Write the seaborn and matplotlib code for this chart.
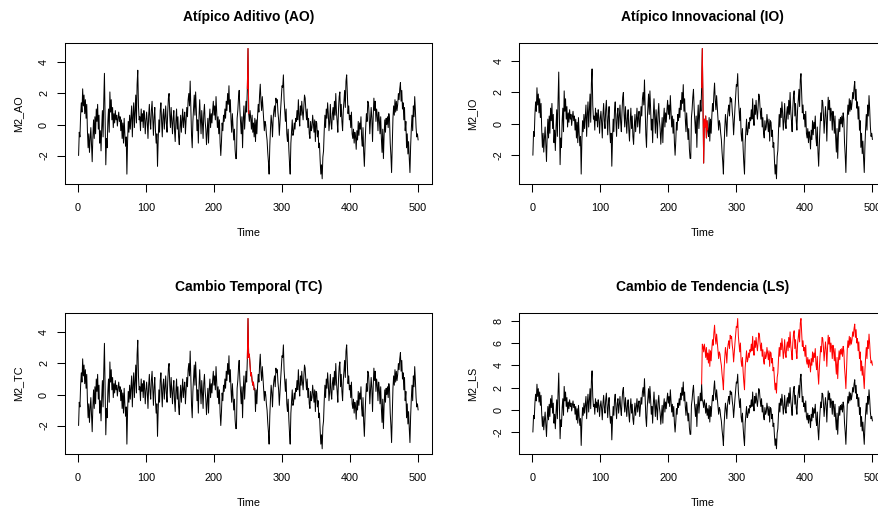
import numpy as np
import pandas as pd
import matplotlib
matplotlib.use("Agg")
import matplotlib.pyplot as plt
import seaborn as sns

# ---------------- data ----------------
# base series M2, t = 1..500
base = [
    -2.0, -0.5, -0.8, 0.6, 1.4, 0.8, 2.3, 1.2, 1.9, 0.7,
    1.6, 0.4, 1.3, -0.4, -1.5, -0.6, -1.8, -0.9, -0.2, -1.3,
    -2.4, -0.8, 0.3, -0.9, 0.5, -0.6, 1.0, 0.2, 1.3, -0.3,
    0.6, -1.2, -0.4, -1.7, -0.2, 0.9, -0.8, 1.5, 3.3, 0.4,
    -2.6, -0.9, -1.5, 0.2, 1.0, -0.5, 2.1, 0.8, 1.6, 0.3,
    1.1, -0.2, 0.7, 0.1, 0.9, 0.3, 0.6, -0.1, 0.4, 0.8,
    0.2, 0.5, -0.4, 0.3, -0.9, 0.1, -1.2, 0.4, -0.6, -1.4,
    -0.8, -3.2, -1.1, 0.2, -0.5, 0.6, -0.3, 0.4, 1.2, -0.8,
    0.6, 1.4, -0.2, 0.8, 1.9, 0.1, 2.6, 3.5, 1.2, 0.3,
    0.5, -0.4, 1.0, 0.2, 0.7, -0.2, 0.9, 0.4, -0.6, 0.3,
    0.8, 0.1, -0.9, 0.6, 1.3, 0.2, -0.3, 0.9, 1.5, 0.4,
    -0.7, 0.5, 1.1, -0.4, -1.2, -0.6, -2.7, -1.0, 0.3, -0.5,
    0.9, 1.4, 0.2, -0.8, 0.6, 1.0, -0.3, 0.5, 1.2, 0.1,
    -0.5, 0.8, 1.7, 2.0, 0.6, -0.2, 1.1, 0.3, -0.6, 0.4,
    0.9, -0.4, -1.1, 0.2, 1.0, -0.3, 0.5, -0.8, -1.3, -0.2,
    0.6, -0.5, 0.3, 1.0, -0.2, 0.4, 0.8, -0.6, 0.2, 1.1,
    0.5, 1.6, 2.0, 1.2, 2.8, 0.9, -0.7, -1.5, 0.2, 1.0,
    1.9, 0.6, 2.1, 1.0, -0.4, 0.3, -1.2, 0.5, 1.6, 0.4,
    -0.6, 0.9, 0.1, -0.9, 0.7, 1.3, 0.2, -0.3, -1.3, -0.5,
    0.4, -1.2, 0.3, 1.0, -0.2, 0.7, 0.1, 0.9, 1.5, 0.6,
    1.2, 0.3, 1.8, 0.8, -0.2, 0.5, -0.6, 0.3, -1.2, -2.0,
    -1.1, 0.1, -0.4, 0.6, 0.2, 1.0, 0.4, 1.5, 0.9, 2.0,
    1.3, 2.5, 0.8, 1.6, 0.3, -0.5, 0.7, -0.2, -1.0, -0.3,
    -1.6, -2.2, -2.2, 0.4, 0.9, 1.7, 2.2, 1.0, 0.2, -0.6,
    0.5, -1.5, 0.3, 1.2, -0.3, 0.6, 1.5, 0.8, 2.3, 0.9,
    0.7, 0.2, 0.9, 0.4, -0.3, 0.6, -0.5, 0.1, -0.8, 0.4,
    -1.1, 0.3, -0.6, 0.5, 1.3, 0.8, 1.9, 2.6, 1.5, 0.9,
    1.8, 1.1, 0.3, -0.4, 0.2, 0.0, -0.6, -1.0, -1.8, -2.4,
    -3.2, -1.4, -0.3, 0.6, 0.1, -0.8, 0.4, 0.9, 1.2, 0.5,
    1.7, 1.4, 1.6, 0.8, 0.3, -0.7, 0.2, 1.0, 1.8, 2.5,
    2.4, 3.2, 1.6, 0.9, 0.2, 1.0, -0.6, -1.1, -0.3, -1.6,
    -2.5, -3.2, -1.2, -0.4, 0.3, -0.7, -0.5, 0.1, -0.3, 0.4,
    0.2, 0.9, 0.3, 1.6, 0.5, -0.1, 1.2, 0.6, 1.5, 0.8,
    0.3, 1.1, 1.9, 1.7, 0.9, 0.3, 1.0, -0.2, 0.4, -0.6,
    -0.9, 0.2, -0.4, -0.2, 0.6, 0.1, -0.5, 0.3, -1.1, 0.2,
    0.1, -0.8, -0.4, -1.5, -1.2, -2.3, -3.2, -2.6, -3.5, -2.1,
    -1.7, -0.4, 0.6, -0.2, 1.0, 0.4, 1.4, 0.7, -0.4, 0.2,
    1.3, 0.1, -0.3, 0.7, 1.1, 0.3, 1.5, 0.6, 2.0, 0.8,
    0.2, -0.5, 1.0, 1.8, 2.1, 0.5, 1.3, 0.2, -0.4, 0.9,
    1.5, 2.2, 1.1, 2.8, 3.2, 1.9, 0.7, 1.2, 0.3, 0.6,
    -0.2, 0.8, -0.6, -0.9, -0.3, -1.2, -0.5, -0.8, -1.6, -0.4,
    -1.0, 0.2, -0.7, 0.1, -0.3, 0.5, -0.9, -1.4, -0.2, -1.8,
    -2.7, -1.3, -0.2, 0.7, 0.2, 1.5, 1.4, 0.6, -0.6, 0.3,
    1.1, 0.4, -1.1, 0.5, 1.7, 0.9, 1.5, 0.2, 1.0, 0.6,
    -0.4, 0.8, 0.3, -0.6, 0.5, -0.9, -1.8, -0.3, -2.2, -0.7,
    0.3, -0.5, 0.4, 0.0, 0.5, -0.2, 0.7, 0.3, -1.2, -2.0,
    -3.1, -1.3, 0.4, 1.2, 0.6, 1.6, 0.8, 1.5, 0.9, 1.3,
    2.0, 1.6, 2.3, 2.7, 1.5, 2.2, 1.0, 1.4, 0.3, 1.1,
    -0.4, 0.2, -1.5, -0.6, -1.9, -1.1, -2.2, -3.1, -1.4, -0.3,
    0.6, -0.4, 1.2, 0.5, 1.8, 0.9, -0.2, -0.8, -0.6, -1.0,
]

# outlier effects (series values at the affected times)
ao_t = [250]
ao_vals = [4.9]
io_t = [250, 251, 252, 253, 254, 255, 256, 257, 258]
io_vals = [4.8, 1.3, -2.5, 0.3, -0.2, 0.5, -0.9, 0.2, -0.4]
tc_t = [250, 251, 252, 253, 254, 255, 256, 257, 258, 259]
tc_vals = [4.9, 2.4, 2.6, 1.9, 1.2, 1.4, 0.9, 0.6, 0.8, 0.3]
ls_start = 250
ls_shift = 5.0

titles = ["Atípico Aditivo (AO)", "Atípico Innovacional (IO)",
          "Cambio Temporal (TC)", "Cambio de Tendencia (LS)"]
ylabels = ["M2_AO", "M2_IO", "M2_TC", "M2_LS"]
xticks = [0, 100, 200, 300, 400, 500]

# ---------------- build series ----------------
time = np.arange(1, len(base) + 1)
b = np.array(base, dtype=float)


def with_effect(ts, vals):
    s = b.copy()
    for t, v in zip(ts, vals):
        s[t - 1] = v
    return s


ao = with_effect(ao_t, ao_vals)
io = with_effect(io_t, io_vals)
tc = with_effect(tc_t, tc_vals)
ls = b.copy()
ls[ls_start - 1:] = ls[ls_start - 1:] + ls_shift

panels = [
    (ao, ao, ao_t[0] - 1, ao_t[-1] + 1),
    (io, io, io_t[0] - 1, io_t[-1]),
    (tc, tc, tc_t[0] - 1, tc_t[-1]),
    (b, ls, ls_start - 1, len(base)),
]

# ---------------- figure ----------------
sns.set_style("white")
plt.rcParams['font.family'] = ['Liberation Sans', 'DejaVu Sans']
plt.rcParams['text.color'] = 'black'
plt.rcParams['axes.labelcolor'] = 'black'
plt.rcParams['xtick.color'] = 'black'
plt.rcParams['ytick.color'] = 'black'

W, H = 879, 512
fig = plt.figure(figsize=(W / 100, H / 100), dpi=100)
AW, AH = 366.7, 140.7
lefts = [65, 519.3]
tops = [43.3, 313.3]

for i, (black_s, red_s, r0, r1) in enumerate(panels):
    left = lefts[i % 2]
    top = tops[i // 2]
    ax = fig.add_axes([left / W, 1 - (top + AH) / H, AW / W, AH / H])
    df_b = pd.DataFrame({"Time": time, "v": black_s})
    sns.lineplot(data=df_b, x="Time", y="v", ax=ax, color="black",
                 linewidth=0.72, estimator=None, sort=False)
    mask = (time >= r0) & (time <= r1)
    df_r = pd.DataFrame({"Time": time[mask], "v": red_s[mask]})
    sns.lineplot(data=df_r, x="Time", y="v", ax=ax, color="red",
                 linewidth=0.72, estimator=None, sort=False)

    lo = min(black_s.min(), red_s[mask].min())
    hi = max(black_s.max(), red_s[mask].max())
    pad = 0.04 * (hi - lo)
    ax.set_ylim(lo - pad, hi + pad)
    ax.set_xlim(1 - 0.04 * 499, 500 + 0.04 * 499)
    ax.set_xticks(xticks)
    yt = np.arange(-2, np.floor(hi) + 0.1, 2)
    ax.set_yticks(yt)
    ax.set_yticklabels([f"{int(v)}" for v in yt], rotation=90, va="center")
    ax.tick_params(axis="both", direction="out", length=6, width=0.75,
                   colors="black", labelcolor="black", labelsize=7.8,
                   bottom=True, left=True)
    ax.tick_params(axis="x", pad=7.5)
    ax.tick_params(axis="y", pad=5.5)
    for sp in ax.spines.values():
        sp.set_visible(True)
        sp.set_color("black")
        sp.set_linewidth(0.75)
    ax.set_xlabel("")
    ax.set_ylabel("")
    ax.text(0.5, -49 / AH, "Time", transform=ax.transAxes, ha="center",
            va="center", fontsize=7.8, color="black")
    ax.text(-47 / AW, 0.5, ylabels[i], transform=ax.transAxes, ha="center",
            va="center", rotation=90, fontsize=7.8, color="black")
    ax.text(0.5, 1 + 26 / AH, titles[i], transform=ax.transAxes,
            ha="center", va="center", fontsize=10, fontweight="bold",
            color="black")

fig.savefig("out.png", dpi=100)
